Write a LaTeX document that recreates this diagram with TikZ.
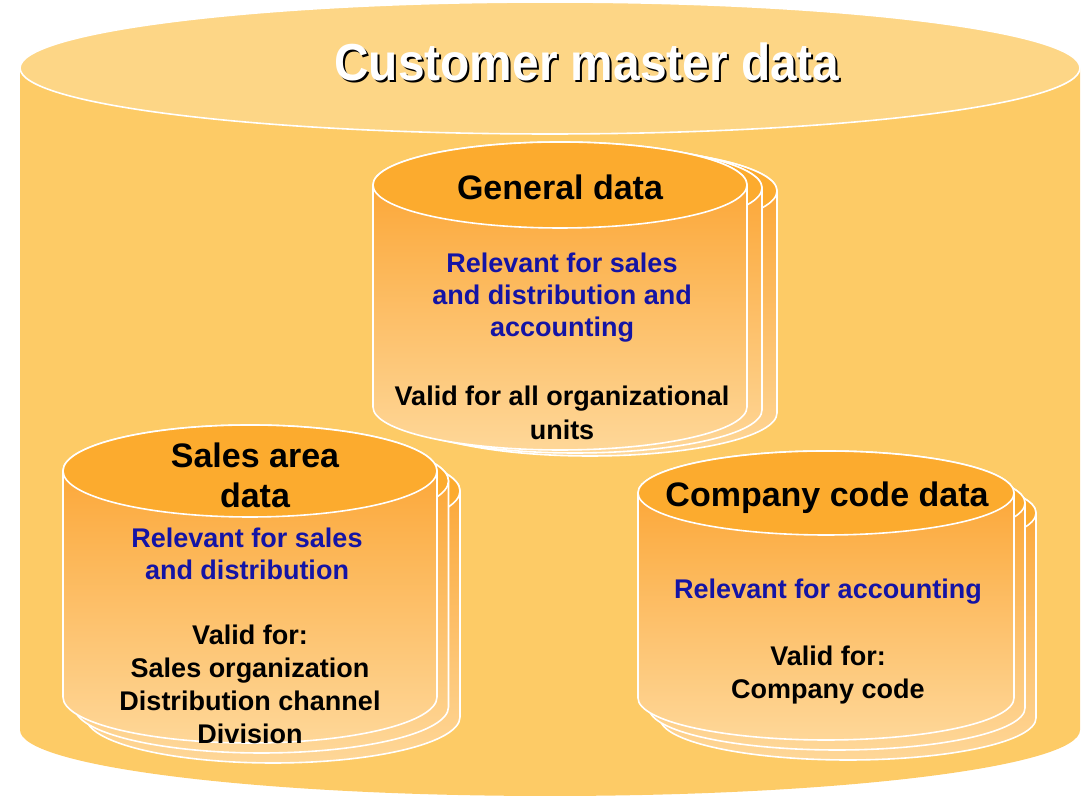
\documentclass[tikz,border=0pt]{standalone}
\usepackage{fontspec}
\setmainfont{Liberation Sans}
\usepackage{xcolor}

\definecolor{bigtop}{RGB}{253,214,134}
\definecolor{bigbody}{RGB}{253,203,102}
\definecolor{cyltopc}{RGB}{252,171,46}
\definecolor{cylhi}{RGB}{251,160,42}
\definecolor{cyllo}{RGB}{254,215,152}
\definecolor{relblue}{RGB}{20,20,165}

\tikzset{
	cylbody/.style={top color=cylhi,bottom color=cyllo,draw=white,line width=0.8pt},
	cyltop/.style={fill=cyltopc,draw=white,line width=0.8pt},
	bigtitle/.style={font=\fontsize{26pt}{30pt}\selectfont\bfseries,xscale=0.92,transform shape},
	titletext/.style={font=\fontsize{17pt}{20pt}\selectfont\bfseries,align=center},
	bluetext/.style={font=\fontsize{13.5pt}{16pt}\selectfont\bfseries,text=relblue,align=center},
	validtext/.style={font=\fontsize{13.5pt}{16.5pt}\selectfont\bfseries,align=center}
}

% stacked cylinder: cx, top, bottom, x radius, y radius, shift x, shift y
\newcommand{\datacyl}[7]{%
	\foreach \k in {2,1,0}{
		\begin{scope}[shift={(\k*#6,-\k*#7)}]
			\shadedraw[cylbody] ({#1-#4},#2) -- ({#1-#4},#3)
				arc[start angle=180,end angle=360,x radius=#4,y radius=#5]
				-- ({#1+#4},#2)
				arc[start angle=0,end angle=180,x radius=#4,y radius=#5] -- cycle;
			\filldraw[cyltop] (#1,#2) ellipse[x radius=#4,y radius=#5];
		\end{scope}
	}%
}

\begin{document}
\begin{tikzpicture}[x=0.5pt,y=0.5pt]
	\useasboundingbox (0,0) rectangle (1092,802);
	
	% outer cylinder
	\fill[bigbody] (20,734) -- (20,72)
		arc[start angle=180,end angle=360,x radius=530,y radius=66]
		-- (1080,734) -- cycle;
	\filldraw[fill=bigtop,draw=white,line width=0.8pt] (550,734) ellipse[x radius=530,y radius=66];
	\node[bigtitle,text=black] (cmdshadow) at (589,738) {Customer master data};
	\node[bigtitle,text=white] (cmd) at (587,740) {Customer master data};
	
	% inner cylinders
	\datacyl{560}{617}{395}{187}{43}{15}{3}
	\datacyl{250}{331}{105}{187}{46}{11.5}{10}
	\datacyl{826}{309}{104}{188}{42}{11}{10}
	
	% general data
	\node[titletext] (gen) at (560,615) {General data};
	\node[bluetext] (genrel) at (562,504) {Relevant for sales\\and distribution and\\accounting};
	\node[validtext] (genvalid) at (562,389) {Valid for all organizational\\[0.5pt]units};
	
	% sales area data
	\node[titletext] (sales) at (255,327) {Sales area\\data};
	\node[bluetext] (salesrel) at (247,248) {Relevant for sales\\and distribution};
	\node[validtext] (salesvalid) at (250,118) {Valid for:\\Sales organization\\Distribution channel\\Division};
	
	% company code data
	\node[titletext] (cc) at (827,304) {Company code data};
	\node[bluetext] (ccrel) at (828,210) {Relevant for accounting};
	\node[validtext] (ccvalid) at (828,127) {Valid for:\\Company code};
\end{tikzpicture}
\end{document}
